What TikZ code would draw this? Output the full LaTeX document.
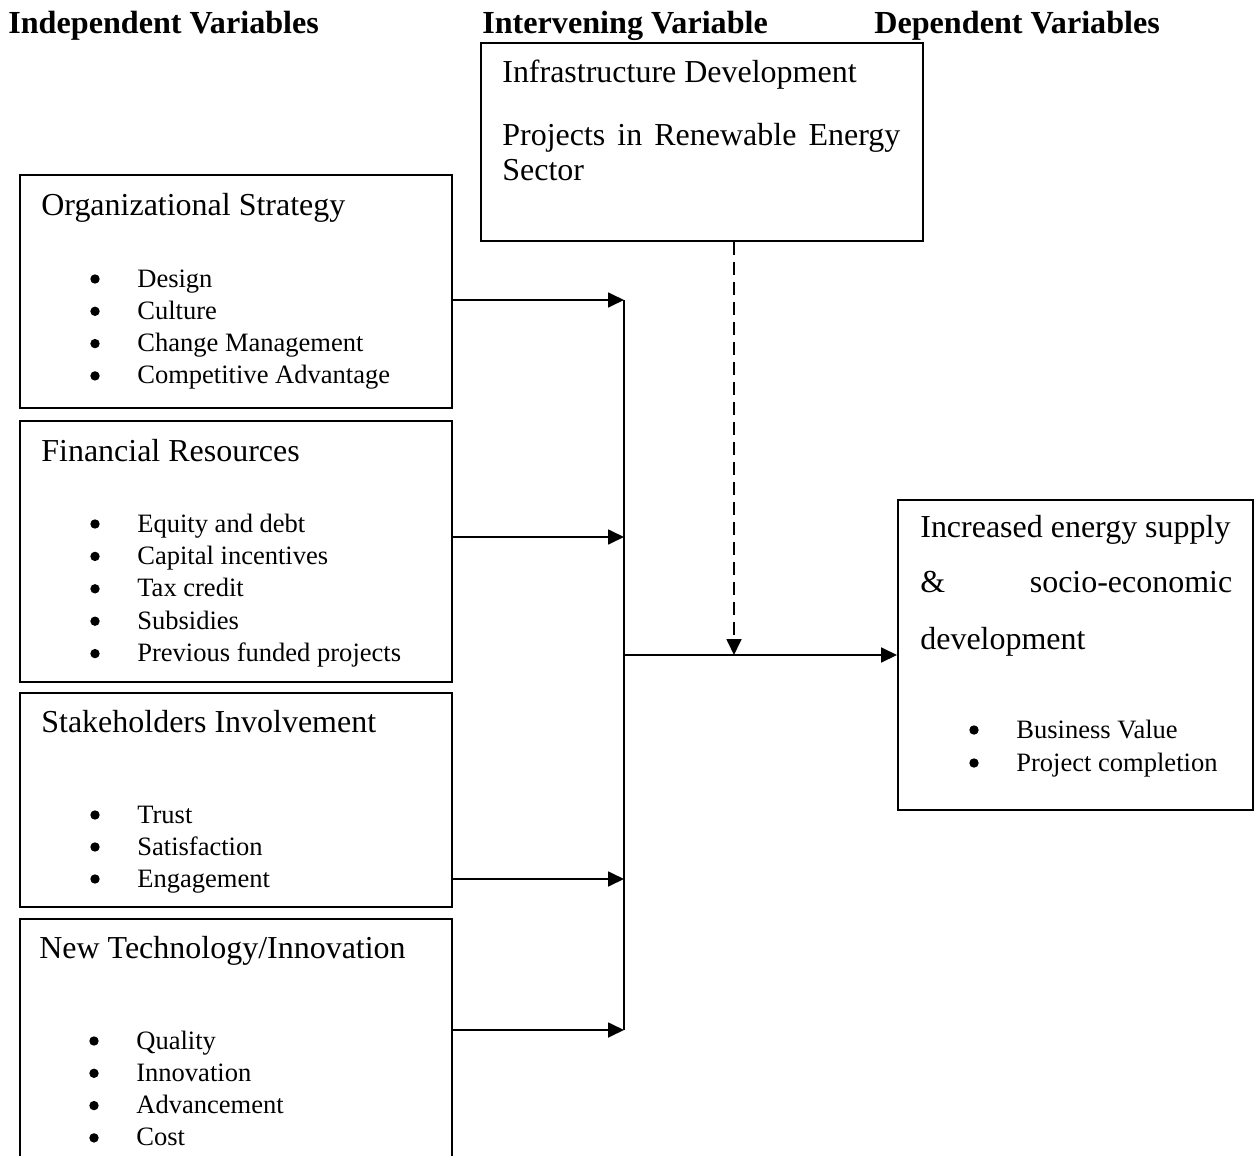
\documentclass[tikz,border=0pt]{standalone}
\usepackage{fontspec}
\setmainfont{Liberation Serif}
\usetikzlibrary{arrows.meta,fit,positioning}

\def\dotr{4.7}

\begin{document}
\begin{tikzpicture}[x=0.02cm,y=-0.02cm]
  \tikzset{box/.style={draw,line width=1.1pt,inner sep=0pt},
    head/.style={anchor=base west,inner sep=0pt,font=\fontsize{18.3}{22}\selectfont\bfseries},
    title/.style={anchor=base west,inner sep=0pt,font=\fontsize{18.2}{22}\selectfont},
    item/.style={anchor=base west,inner sep=0pt,font=\fontsize{15.1}{18}\selectfont},
    arr/.style={line width=1pt,-{Triangle[length=0.32cm,width=0.3cm]}}}
  \useasboundingbox (0,0) rectangle (1259,1156);

  \node[head] at (8,33) {Independent Variables};
  \node[head] at (482,33) {Intervening Variable};
  \node[head] at (874,33) {Dependent Variables};

  \node[box,fit={(481,43) (923,241)}] (infra) {};
  \node[box,fit={(20,175) (452,408)}] (org) {};
  \node[box,fit={(20,421) (452,682)}] (fin) {};
  \node[box,fit={(20,693) (452,907)}] (stake) {};
  \node[box,fit={(20,919) (452,1180)}] (tech) {};
  \node[box,fit={(898,500) (1253,810)}] (dep) {};

  \node[title] at (502,82) {Infrastructure Development};
  \node[title] at (502,145) {\makebox[7.96cm][s]{Projects in Renewable Energy}};
  \node[title] at (502,180) {Sector};

  \node[title] at (41,215) {Organizational Strategy};
  \foreach \t [count=\i from 0] in {Design,Culture,Change Management,Competitive Advantage} {
    \node[item] (org-\i) at (137,287+32.3*\i) {\t};
    \fill ([shift={(-42,-8)}]org-\i.base west) circle (\dotr);
  }

  \node[title] at (41,461) {Financial Resources};
  \foreach \t [count=\i from 0] in {Equity and debt,Capital incentives,Tax credit,Subsidies,Previous funded projects} {
    \node[item] (fin-\i) at (137,532+32.4*\i) {\t};
    \fill ([shift={(-42,-8)}]fin-\i.base west) circle (\dotr);
  }

  \node[title] at (41,732) {Stakeholders Involvement};
  \foreach \t [count=\i from 0] in {Trust,Satisfaction,Engagement} {
    \node[item] (stake-\i) at (137,823+32*\i) {\t};
    \fill ([shift={(-42,-8)}]stake-\i.base west) circle (\dotr);
  }

  \node[title] at (39,958) {New Technology/Innovation};
  \foreach \t [count=\i from 0] in {Quality,Innovation,Advancement,Cost} {
    \node[item] (tech-\i) at (136,1049+32.3*\i) {\t};
    \fill ([shift={(-42,-8)}]tech-\i.base west) circle (\dotr);
  }

  \node[title] at (920,537) {Increased energy supply};
  \node[title] at (920,592) {\makebox[6.24cm][s]{\& socio-economic}};
  \node[title] at (920,649) {development};
  \foreach \t [count=\i from 0] in {Business Value,Project completion} {
    \node[item] (dep-\i) at (1016,738+33*\i) {\t};
    \fill ([shift={(-42,-8)}]dep-\i.base west) circle (\dotr);
  }

  % junction points on the collecting line
  \coordinate (j1) at (624,300);
  \coordinate (j2) at (624,537);
  \coordinate (j3) at (624,879);
  \coordinate (j4) at (624,1030);
  \coordinate (jm) at (624,655);
  \coordinate (dm) at (734,655);

  \draw[line width=1pt] (j1) -- (j4);
  \draw[arr] (org.east |- j1) -- (j1);
  \draw[arr] (fin.east |- j2) -- (j2);
  \draw[arr] (stake.east |- j3) -- (j3);
  \draw[arr] (tech.east |- j4) -- (j4);
  \draw[arr] (jm) -- (dep.west |- jm);
  \draw[arr,dash pattern=on 0.26cm off 0.14cm] (infra.south -| dm) -- (dm);
\end{tikzpicture}
\end{document}
